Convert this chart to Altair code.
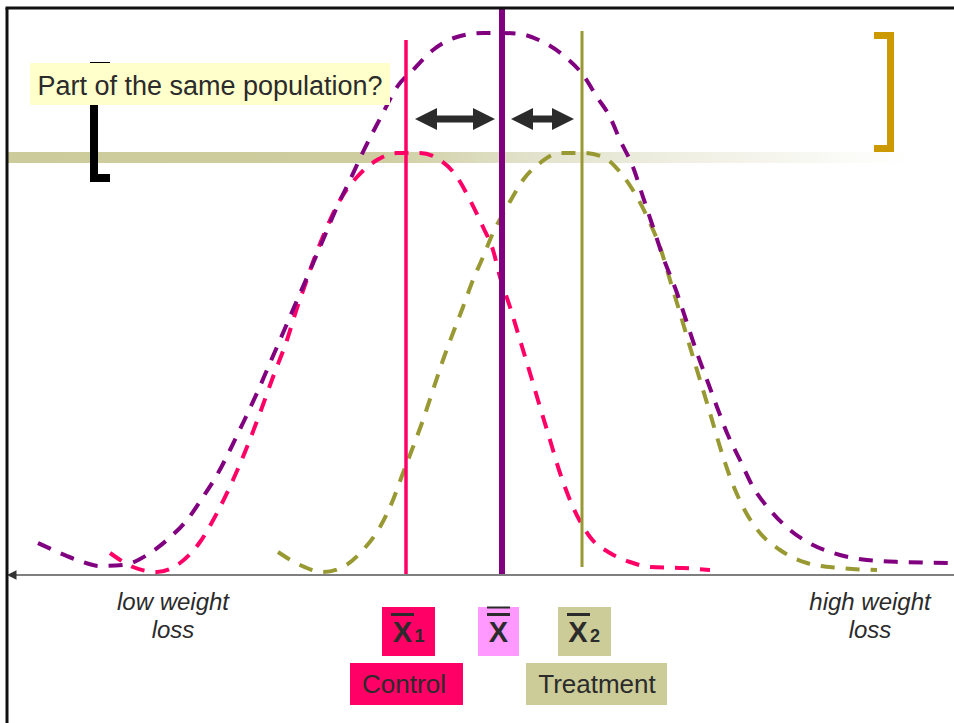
import altair as alt
import pandas as pd

# ---------------- data (x: position along weight-loss axis, y: height above baseline) -------------
purple_x = [38, 60, 80, 100, 123, 147, 167, 187, 203, 217, 230, 243, 257, 270, 283, 295, 305, 320,
            337, 350, 363, 383, 397, 413, 433, 457, 483, 503, 520, 543, 563, 583, 597, 610, 620, 633,
            643, 653, 663, 677, 687, 697, 707, 717, 727, 740, 753, 770, 790, 813, 840, 867, 900, 954]
purple_y = [32, 22, 14, 9, 10, 20, 35, 55, 78, 100, 125, 152, 182, 212, 242, 270, 293, 328,
            368, 395, 423, 462, 488, 505, 525, 538, 542, 542, 541, 533, 520, 500, 478, 458, 435, 408,
            378, 348, 318, 282, 252, 222, 195, 168, 142, 115, 88, 65, 45, 30, 20, 15, 13, 12]

control_x = [110, 133, 157, 180, 200, 217, 233, 247, 260, 273, 287, 297, 305, 313, 327, 340, 357,
             377, 397, 420, 440, 457, 470, 483, 493, 500, 510, 520, 530, 540, 550, 560, 573, 590,
             610, 630, 650, 683, 710]
control_y = [22, 8, 3, 12, 33, 62, 95, 128, 162, 198, 235, 267, 290, 313, 348, 375, 398,
             415, 422, 422, 415, 398, 375, 348, 325, 298, 268, 235, 202, 168, 135, 102, 68, 38,
             22, 13, 8, 7, 5]

treat_x = [278, 300, 323, 343, 363, 380, 393, 403, 413, 423, 433, 443, 453, 463, 473, 483, 493,
           507, 523, 540, 560, 583, 603, 620, 637, 650, 660, 670, 680, 690, 700, 710, 720, 730,
           743, 760, 780, 807, 840, 877]
treat_y = [23, 10, 3, 8, 25, 48, 75, 102, 128, 155, 185, 215, 242, 268, 295, 318, 342,
           368, 395, 412, 422, 422, 418, 403, 378, 352, 328, 295, 262, 228, 195, 162, 128, 98,
           68, 42, 25, 12, 7, 5]

# means (vertical markers)
mean_names = ["x1", "x", "x2"]
mean_x = [406, 502, 582]
mean_bottom = [0, 0, 8]
mean_top = [535, 567, 544]

# double arrows (distance from each group mean to grand mean)
arrow_left = [415, 511]
arrow_right = [495, 574]
arrow_y = [456, 456]

# band at the height of the group peaks
band_x = [8]
band_x2 = [910]
band_y = [412]
band_y2 = [423]

# brackets: black "[" (left) and gold "]" (right)
black_br_x = [90, 90, 90]
black_br_x2 = [98, 110, 110]
black_br_y = [393, 508, 393]
black_br_y2 = [513, 513, 401]
gold_br_x = [887, 874, 874]
gold_br_x2 = [894, 894, 894]
gold_br_y = [423, 536, 423]
gold_br_y2 = [543, 543, 430]

# question label
question = ["Part of the same population?"]
question_box = [30, 390, 470, 512]
question_pos = [210, 480]

# axis end labels
end_labels = ["low weight\nloss", "high weight\nloss"]
end_x = [173, 870]
end_y = [-35, -35]

# mean symbol boxes
sym_box_x = [382, 478, 558]
sym_box_x2 = [435, 519, 611]
sym_box_y = [-81, -81, -81]
sym_box_y2 = [-32, -32, -32]
sym_letter_x = [402.5, 498.5, 578]
sym_sub = ["1", "2"]
sym_sub_x = [419.5, 595]
overbar_x = [391, 487, 487, 567]
overbar_x2 = [414, 510, 510, 590]
overbar_y = [-41, -41, -33.5, -41]
overbar_y2 = [-38, -38, -31.5, -38]

# group name boxes
group_names = ["Control", "Treatment"]
group_box_x = [350, 526]
group_box_x2 = [463, 667]
group_box_y = [-130, -130]
group_box_y2 = [-88, -88]
group_text_x = [404, 597]
group_text_y = [-118, -118]

# ---------------- chart -------------
XS = alt.Scale(domain=[0, 954], nice=False, zero=False)
YS = alt.Scale(domain=[-148, 575], nice=False, zero=False)
FONT = "Liberation Sans"
TXT = "#2b2b2b"


def ex(f):
    return alt.X(f"{f}:Q", scale=XS, axis=None)


def ey(f):
    return alt.Y(f"{f}:Q", scale=YS, axis=None)


def rects(x, x2, y, y2, color, opacity=1):
    df = pd.DataFrame({"x": x, "x2": x2, "y": y, "y2": y2})
    return alt.Chart(df).mark_rect(color=color, opacity=opacity).encode(
        x=ex("x"), x2="x2:Q", y=ey("y"), y2="y2:Q")


def curve(xs, ys, color):
    df = pd.DataFrame({"x": xs, "y": ys})
    return alt.Chart(df).mark_line(color=color, strokeWidth=4, strokeDash=[14, 11],
                                   interpolate="monotone").encode(x=ex("x"), y=ey("y"))


layers = []

band_grad = alt.LinearGradient(
    gradient="linear", x1=0, x2=1, y1=0, y2=0,
    stops=[alt.GradientStop(color="#cbcb9b", offset=0),
           alt.GradientStop(color="#cdcd9f", offset=0.4),
           alt.GradientStop(color="#e2e2cc", offset=0.58),
           alt.GradientStop(color="#efefe3", offset=0.75),
           alt.GradientStop(color="#ffffff", offset=1)])
band_df = pd.DataFrame({"x": band_x, "x2": band_x2, "y": band_y, "y2": band_y2})
layers.append(alt.Chart(band_df).mark_rect(fill=band_grad).encode(
    x=ex("x"), x2="x2:Q", y=ey("y"), y2="y2:Q"))

layers.append(curve(control_x, control_y, "#ff0066"))
layers.append(curve(treat_x, treat_y, "#999933"))
layers.append(curve(purple_x, purple_y, "#800080"))

mean_df = pd.DataFrame({"name": mean_names, "x": mean_x, "y": mean_bottom, "y2": mean_top})
for name, col, w in [("x1", "#ff0066", 3.5), ("x2", "#999933", 3), ("x", "#800080", 6)]:
    layers.append(alt.Chart(mean_df).transform_filter(alt.datum.name == name)
                  .mark_rule(color=col, strokeWidth=w)
                  .encode(x=ex("x"), y=ey("y"), y2="y2:Q"))

arr_df = pd.DataFrame({"a": arrow_left, "b": arrow_right, "y": arrow_y})
layers.append(alt.Chart(arr_df).transform_calculate(a2="datum.a + 12", b2="datum.b - 12")
              .mark_rule(color="#2b2b2b", strokeWidth=7)
              .encode(x=ex("a2"), x2="b2:Q", y=ey("y")))
layers.append(alt.Chart(arr_df).mark_point(shape="M0,0L2,-1L2,1Z", size=484, filled=True,
                                           color="#2b2b2b", opacity=1, strokeWidth=0)
              .encode(x=ex("a"), y=ey("y")))
layers.append(alt.Chart(arr_df).mark_point(shape="M0,0L-2,-1L-2,1Z", size=484, filled=True,
                                           color="#2b2b2b", opacity=1, strokeWidth=0)
              .encode(x=ex("b"), y=ey("y")))

layers.append(rects(black_br_x, black_br_x2, black_br_y, black_br_y2, "#000000"))
layers.append(rects(gold_br_x, gold_br_x2, gold_br_y, gold_br_y2, "#cc9900"))

layers.append(rects([question_box[0]], [question_box[1]], [question_box[2]], [question_box[3]],
                    "#ffffcc"))
q_df = pd.DataFrame({"t": question, "x": [question_pos[0]], "y": [question_pos[1]]})
layers.append(alt.Chart(q_df).mark_text(font=FONT, fontSize=27, color=TXT, align="center",
                                        baseline="alphabetic")
              .encode(x=ex("x"), y=ey("y"), text="t:N"))

# baseline axis with arrow at left
axis_df = pd.DataFrame({"x": [14], "x2": [954], "y": [0]})
layers.append(alt.Chart(axis_df).mark_rule(color="#7f7f7f", strokeWidth=2)
              .encode(x=ex("x"), x2="x2:Q", y=ey("y")))
axh_df = pd.DataFrame({"x": [7], "y": [0]})
layers.append(alt.Chart(axh_df).mark_point(shape="M0,0L2,-1L2,1Z", size=90, filled=True,
                                           color="#333333", opacity=1, strokeWidth=0)
              .encode(x=ex("x"), y=ey("y")))

# frame (left and top)
frame_df = pd.DataFrame({"x": [7], "y": [-148], "y2": [567]})
layers.append(alt.Chart(frame_df).mark_rule(color="#111111", strokeWidth=3)
              .encode(x=ex("x"), y=ey("y"), y2="y2:Q"))
frame2_df = pd.DataFrame({"x": [5.5], "x2": [954], "y": [567]})
layers.append(alt.Chart(frame2_df).mark_rule(color="#111111", strokeWidth=3)
              .encode(x=ex("x"), x2="x2:Q", y=ey("y")))

end_df = pd.DataFrame({"t": end_labels, "x": end_x, "y": end_y})
layers.append(alt.Chart(end_df).mark_text(font=FONT, fontSize=24, fontStyle="italic", color=TXT,
                                          align="center", baseline="alphabetic",
                                          lineBreak="\n", lineHeight=28)
              .encode(x=ex("x"), y=ey("y"), text="t:N"))

# mean symbol boxes
for i, col in enumerate(["#ff0066", "#ff99ff", "#cccc99"]):
    layers.append(rects([sym_box_x[i]], [sym_box_x2[i]], [sym_box_y[i]], [sym_box_y2[i]], col))
let_df = pd.DataFrame({"t": ["X", "X", "X"], "x": sym_letter_x, "y": [-67, -67, -67]})
layers.append(alt.Chart(let_df).mark_text(font=FONT, fontSize=29, fontWeight="bold", color=TXT,
                                          align="center", baseline="alphabetic")
              .encode(x=ex("x"), y=ey("y"), text="t:N"))
sub_df = pd.DataFrame({"t": sym_sub, "x": sym_sub_x, "y": [-67, -67]})
layers.append(alt.Chart(sub_df).mark_text(font=FONT, fontSize=18, fontWeight="bold", color=TXT,
                                          align="center", baseline="alphabetic")
              .encode(x=ex("x"), y=ey("y"), text="t:N"))
layers.append(rects(overbar_x, overbar_x2, overbar_y, overbar_y2, TXT))

# group boxes
for i, col in enumerate(["#ff0066", "#cccc99"]):
    layers.append(rects([group_box_x[i]], [group_box_x2[i]], [group_box_y[i]],
                        [group_box_y2[i]], col))
grp_df = pd.DataFrame({"t": group_names, "x": group_text_x, "y": group_text_y})
layers.append(alt.Chart(grp_df).mark_text(font=FONT, fontSize=26, color=TXT, align="center",
                                          baseline="alphabetic")
              .encode(x=ex("x"), y=ey("y"), text="t:N"))

chart = alt.layer(*layers).properties(
    width=954, height=723, padding=0,
    autosize=alt.AutoSizeParams(type="none"),
    background="#ffffff",
).configure_view(stroke=None)

chart.save("out.html", embed_options={"renderer": "svg", "actions": False})
